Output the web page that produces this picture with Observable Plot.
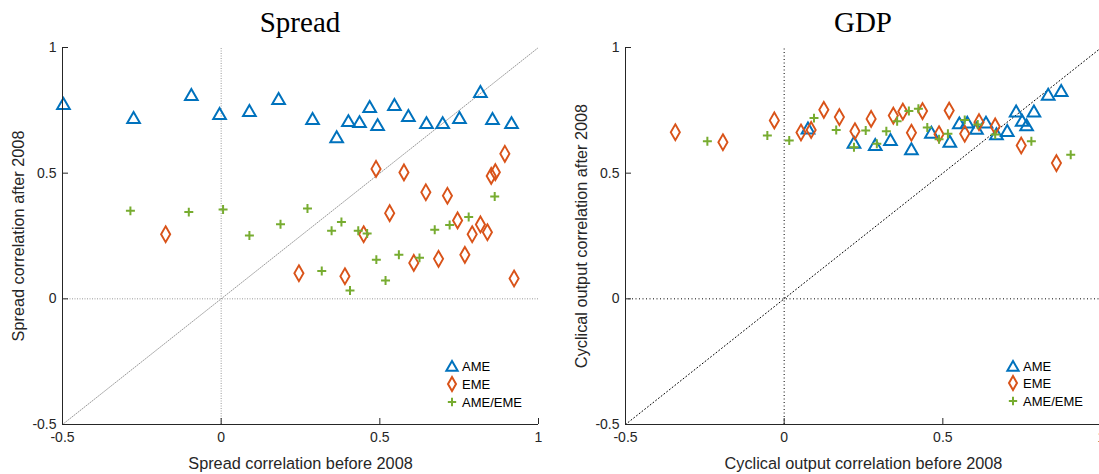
<!DOCTYPE html>
<html><head><meta charset="utf-8">
<script src="https://cdn.jsdelivr.net/npm/d3@7"></script>
<script src="https://cdn.jsdelivr.net/npm/@observablehq/plot@0.6"></script>
<style>
html,body{margin:0;padding:0;background:#fff;overflow:hidden;width:1099px;height:474px}
#wrap{position:relative;width:1099px;height:474px;overflow:hidden}
.panel{position:absolute;top:0;width:550px;height:474px}
.panel svg{max-width:none !important}
.title{position:absolute;top:6px;text-align:center;font-family:"Liberation Serif",serif;font-size:29px;line-height:32px;color:#000}
.lrow{position:absolute;height:18px;display:flex;align-items:center;font-family:"Liberation Sans",Arial,sans-serif;font-size:13px;color:#000;white-space:nowrap}
.lrow span{margin-left:2px}
</style></head><body><div id="wrap"></div>
<script>
// ---------- data ----------
const axisDomain = [-0.5, 1];
const tickValues = [-0.5, 0, 0.5, 1];
const zeroLine = [0];
const diagLine = [-0.5, 1];
const seriesNames = ["AME", "EME", "AME/EME"];
const seriesColors = ["#0072BD", "#D95319", "#77AC30"];

// Spread panel
const spreadAmeX = [-0.497,-0.276,-0.094,-0.005,0.089,0.181,0.288,0.364,0.401,0.436,0.468,0.493,0.546,0.590,0.647,0.698,0.751,0.817,0.855,0.915];
const spreadAmeY = [0.777,0.721,0.813,0.737,0.749,0.797,0.717,0.645,0.709,0.705,0.765,0.693,0.773,0.729,0.701,0.701,0.721,0.825,0.717,0.701];
const spreadEmeX = [-0.175,0.245,0.390,0.449,0.488,0.531,0.576,0.607,0.645,0.685,0.713,0.745,0.768,0.791,0.817,0.839,0.851,0.864,0.894,0.923];
const spreadEmeY = [0.257,0.102,0.090,0.257,0.517,0.341,0.503,0.143,0.424,0.159,0.410,0.312,0.175,0.257,0.296,0.265,0.489,0.504,0.577,0.081];
const spreadMixX = [-0.286,-0.102,0.006,0.089,0.187,0.272,0.317,0.348,0.379,0.406,0.432,0.460,0.489,0.518,0.560,0.625,0.673,0.720,0.780,0.862];
const spreadMixY = [0.350,0.345,0.355,0.252,0.297,0.359,0.111,0.271,0.306,0.033,0.271,0.260,0.156,0.073,0.175,0.163,0.275,0.294,0.326,0.407];

// GDP panel
const gdpAmeX = [0.075,0.220,0.287,0.335,0.401,0.464,0.522,0.552,0.577,0.606,0.636,0.669,0.703,0.731,0.750,0.764,0.787,0.832,0.873];
const gdpAmeY = [0.680,0.623,0.614,0.634,0.597,0.663,0.627,0.700,0.703,0.679,0.703,0.657,0.670,0.747,0.710,0.692,0.747,0.814,0.829];
const gdpEmeX = [-0.343,-0.193,-0.031,0.053,0.085,0.125,0.174,0.223,0.274,0.344,0.374,0.401,0.436,0.488,0.520,0.569,0.614,0.665,0.747,0.858];
const gdpEmeY = [0.663,0.623,0.710,0.662,0.672,0.752,0.723,0.667,0.716,0.729,0.745,0.661,0.747,0.655,0.749,0.657,0.703,0.686,0.610,0.540];
const gdpMixX = [-0.242,-0.053,0.016,0.094,0.164,0.220,0.257,0.292,0.322,0.356,0.393,0.423,0.451,0.488,0.516,0.569,0.610,0.665,0.779,0.903];
const gdpMixY = [0.627,0.650,0.630,0.719,0.672,0.603,0.670,0.617,0.667,0.707,0.747,0.756,0.682,0.635,0.657,0.712,0.694,0.654,0.627,0.573];

// ---------- drawing ----------
const wrap = document.getElementById("wrap");
const ink = "#262626";
const fmt = d => String(d);

function pts(xs, ys) { return xs.map((x, i) => ({x, y: ys[i]})); }

function makePanel(opt) {
  const chart = Plot.plot({
    width: 550, height: 474,
    marginLeft: 62, marginRight: 12, marginTop: 47, marginBottom: 50,
    x: {domain: axisDomain},
    y: {domain: axisDomain},
    style: {fontFamily: '"Liberation Sans", Arial, sans-serif', color: ink, background: "transparent", overflow: "visible", maxWidth: "none"},
    marks: [
      Plot.ruleX(zeroLine, {y1: axisDomain[0], y2: axisDomain[1], stroke: opt.guide, strokeWidth: opt.guideW, strokeDasharray: opt.dash}),
      Plot.ruleY(zeroLine, {x1: axisDomain[0], x2: axisDomain[1], stroke: opt.guide, strokeWidth: opt.guideW, strokeDasharray: opt.dash}),
      Plot.line(diagLine, {x: d => d, y: d => d, stroke: opt.guide, strokeWidth: opt.guideW, strokeDasharray: opt.dash}),
      Plot.dot(pts(opt.ameX, opt.ameY), {x: "x", y: "y", symbol: "triangle", r: 4.7, dy: 1.8, stroke: seriesColors[0], strokeWidth: 2, fill: "none"}),
      Plot.dot(pts(opt.emeX, opt.emeY), {x: "x", y: "y", symbol: "diamond", r: 4.8, stroke: seriesColors[1], strokeWidth: 1.9, fill: "none"}),
      Plot.dot(pts(opt.mixX, opt.mixY), {x: "x", y: "y", symbol: "plus", r: 3.0, stroke: seriesColors[2], strokeWidth: 2}),
      Plot.ruleX([axisDomain[0]], {y1: axisDomain[0], y2: axisDomain[1], stroke: ink}),
      Plot.ruleY([axisDomain[0]], {x1: axisDomain[0], x2: axisDomain[1], stroke: ink}),
      Plot.axisX({ticks: tickValues, tickFormat: fmt, tickSize: -6, tickPadding: 14, fontSize: 14, label: null, stroke: ink}),
      Plot.axisY({ticks: tickValues, tickFormat: fmt, tickSize: -6, tickPadding: 12, fontSize: 14, label: null, stroke: ink}),
      Plot.text([opt.xLabel], {frameAnchor: "bottom", textAnchor: "middle", dy: 39, lineAnchor: "middle", fontSize: 16.3, fill: ink}),
      Plot.text([opt.yLabel], {frameAnchor: "left", textAnchor: "middle", dx: -44, rotate: -90, lineAnchor: "middle", fontSize: 16.3, fill: ink})
    ]
  });
  const holder = document.createElement("div");
  holder.className = "panel";
  holder.style.left = opt.left + "px";
  holder.appendChild(chart);
  wrap.appendChild(holder);

  const title = document.createElement("div");
  title.className = "title";
  title.style.left = (opt.left + 62) + "px";
  title.style.width = "476px";
  title.textContent = opt.title;
  wrap.appendChild(title);

  // legend
  const symbols = [d3.symbolTriangle, d3.symbolDiamond, d3.symbolPlus];
  const sizes = [Math.PI * 4.2 * 4.2, Math.PI * 4.2 * 4.2, Math.PI * 2.8 * 2.8];
  const offs = [1.6, 0, 0];
  seriesNames.forEach((name, i) => {
    const row = document.createElement("div");
    row.className = "lrow";
    row.style.left = (opt.legX - 8) + "px";
    row.style.top = (opt.legY[i] - 9) + "px";
    const svg = d3.create("svg").attr("width", 16).attr("height", 18);
    svg.append("path")
      .attr("d", d3.symbol(symbols[i], sizes[i])())
      .attr("transform", `translate(8,${9 + offs[i]})`)
      .attr("fill", "none").attr("stroke", seriesColors[i]).attr("stroke-width", 2);
    row.appendChild(svg.node());
    const sp = document.createElement("span");
    sp.textContent = name;
    row.appendChild(sp);
    wrap.appendChild(row);
  });
}

makePanel({
  left: 0, title: "Spread",
  xLabel: "Spread correlation before 2008", yLabel: "Spread correlation after 2008",
  ameX: spreadAmeX, ameY: spreadAmeY, emeX: spreadEmeX, emeY: spreadEmeY, mixX: spreadMixX, mixY: spreadMixY,
  guide: "#999", guideW: 1, dash: "1,1.5",
  legX: 452, legY: [366, 384, 402]
});
makePanel({
  left: 563, title: "GDP",
  xLabel: "Cyclical output correlation before 2008", yLabel: "Cyclical output correlation after 2008",
  ameX: gdpAmeX, ameY: gdpAmeY, emeX: gdpEmeX, emeY: gdpEmeY, mixX: gdpMixX, mixY: gdpMixY,
  guide: "#000", guideW: 1, dash: "1,2.5",
  legX: 1013, legY: [366, 383, 401]
});
</script></body></html>
